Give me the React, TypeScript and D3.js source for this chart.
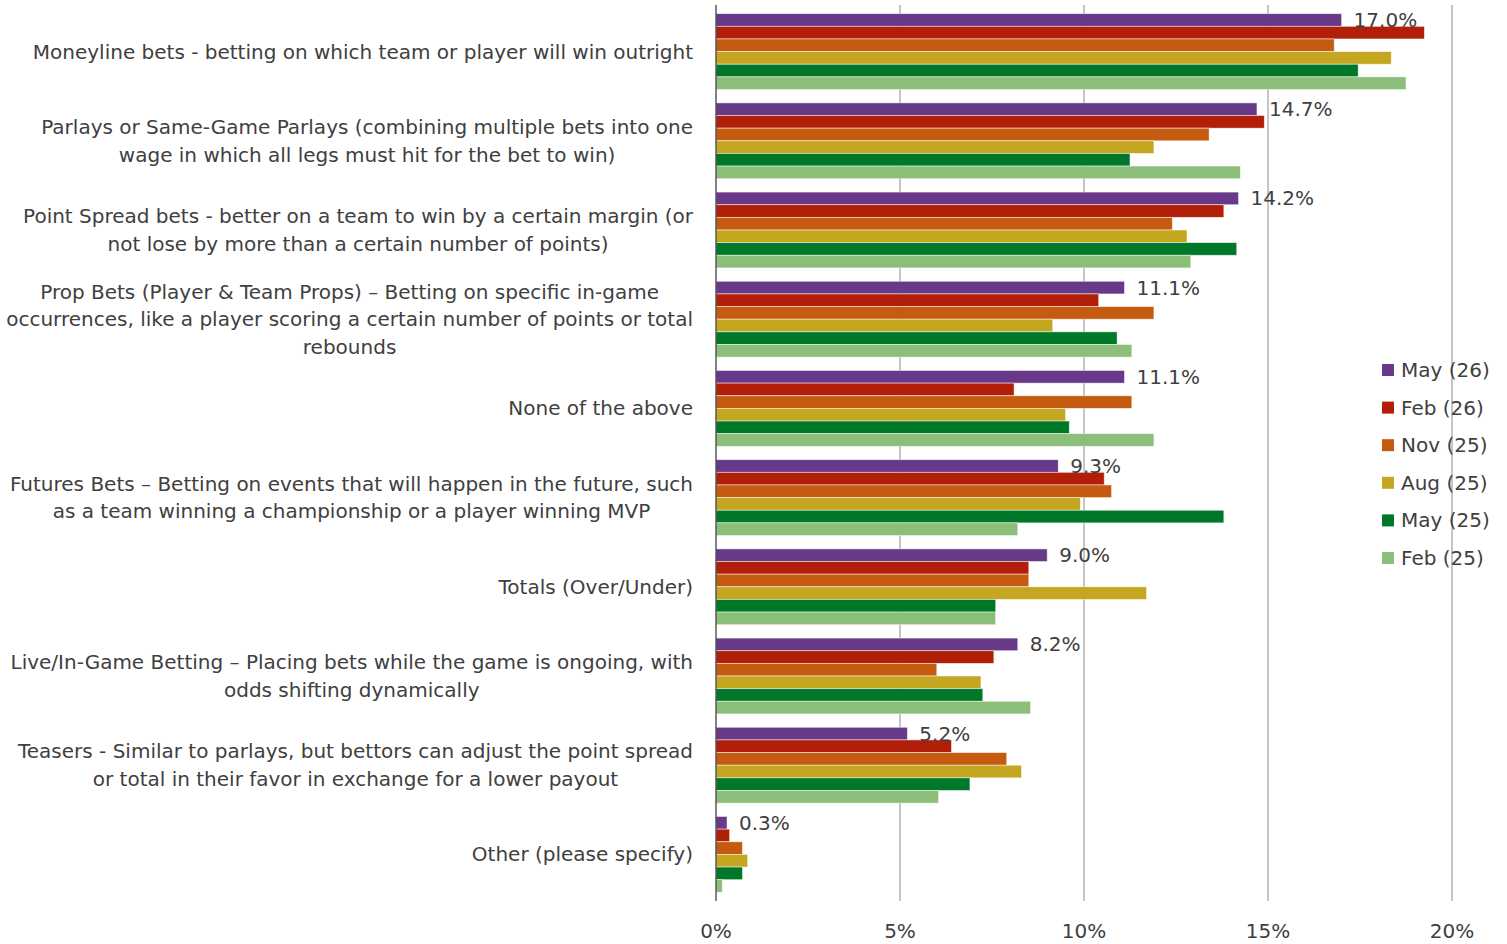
import { useEffect, useRef } from 'react';
import * as d3 from 'd3';

const categories = [
  'Moneyline bets - betting on which team or player will win outright',
  'Parlays or Same-Game Parlays (combining multiple bets into one\nwage in which all legs must hit for the bet to win)',
  'Point Spread bets - better on a team to win by a certain margin (or\nnot lose by more than a certain number of points)',
  'Prop Bets (Player & Team Props) – Betting on specific in-game\noccurrences, like a player scoring a certain number of points or total\nrebounds',
  'None of the above',
  'Futures Bets – Betting on events that will happen in the future, such\nas a team winning a championship or a player winning MVP',
  'Totals (Over/Under)',
  'Live/In-Game Betting – Placing bets while the game is ongoing, with\nodds shifting dynamically',
  'Teasers - Similar to parlays, but bettors can adjust the point spread\nor total in their favor in exchange for a lower payout',
  'Other (please specify)',
];

const seriesNames = ['May (26)', 'Feb (26)', 'Nov (25)', 'Aug (25)', 'May (25)', 'Feb (25)'];
const seriesColors = ['#683889', '#B21F08', '#C55B10', '#C5A621', '#00782A', '#8BBE79'];

// values in %, one array per wave, same order as categories
const may26 = [17.0, 14.7, 14.2, 11.1, 11.1, 9.3, 9.0, 8.2, 5.2, 0.3];
const feb26 = [19.25, 14.9, 13.8, 10.4, 8.1, 10.55, 8.5, 7.55, 6.4, 0.37];
const nov25 = [16.8, 13.4, 12.4, 11.9, 11.3, 10.75, 8.5, 6.0, 7.9, 0.72];
const aug25 = [18.35, 11.9, 12.8, 9.15, 9.5, 9.9, 11.7, 7.2, 8.3, 0.86];
const may25 = [17.45, 11.25, 14.15, 10.9, 9.6, 13.8, 7.6, 7.25, 6.9, 0.72];
const feb25 = [18.75, 14.25, 12.9, 11.3, 11.9, 8.2, 7.6, 8.55, 6.05, 0.17];

const seriesValues = [may26, feb26, nov25, aug25, may25, feb25];
const xTicks = [0, 5, 10, 15, 20];

const FONT = 'Tahoma, Verdana, "DejaVu Sans", sans-serif';
const TEXT = '#404040';

export default function App() {
  const svgRef = useRef<SVGSVGElement>(null);

  useEffect(() => {
    if (!svgRef.current) return;
    document.body.style.margin = '0';
    const svg = d3.select(svgRef.current);
    svg.selectAll('*').remove();

    const x = d3.scaleLinear().domain([0, 20]).range([716, 1452]);
    const y = d3.scaleBand<string>()
      .domain(categories)
      .range([7, 899])
      .paddingInner(0.15)
      .paddingOuter(0.075);
    const inner = d3.scaleBand<number>()
      .domain(d3.range(seriesNames.length))
      .range([0, y.bandwidth()]);

    // gridlines
    svg.append('g')
      .selectAll('line')
      .data(xTicks.slice(1))
      .join('line')
      .attr('x1', d => x(d))
      .attr('x2', d => x(d))
      .attr('y1', 5)
      .attr('y2', 901)
      .attr('stroke', '#A6A6A6')
      .attr('stroke-width', 1.3);

    // bars
    const groups = svg.append('g')
      .selectAll('g')
      .data(categories)
      .join('g')
      .attr('transform', d => `translate(0,${y(d)})`);

    groups.selectAll('rect')
      .data((_, ci) => seriesValues.map((vals, si) => ({ si, v: vals[ci] })))
      .join('rect')
      .attr('x', x(0))
      .attr('y', d => inner(d.si)!)
      .attr('width', d => x(d.v) - x(0))
      .attr('height', inner.bandwidth())
      .attr('fill', d => seriesColors[d.si])
      .attr('stroke', 'rgba(255,255,255,0.6)')
      .attr('stroke-width', 0.8);

    // data labels for latest wave
    groups.append('text')
      .attr('x', (_, ci) => x(may26[ci]) + 12)
      .attr('y', inner(0)! + inner.bandwidth() / 2)
      .attr('dy', '0.35em')
      .attr('font-family', FONT)
      .attr('font-size', 20)
      .attr('fill', TEXT)
      .text((_, ci) => may26[ci].toFixed(1) + '%');

    // y axis line
    svg.append('line')
      .attr('x1', x(0))
      .attr('x2', x(0))
      .attr('y1', 5)
      .attr('y2', 901)
      .attr('stroke', '#404040')
      .attr('stroke-width', 1.3);

    // x tick labels
    svg.append('g')
      .selectAll('text')
      .data(xTicks)
      .join('text')
      .attr('x', d => x(d))
      .attr('y', 931)
      .attr('dy', '0.35em')
      .attr('text-anchor', 'middle')
      .attr('font-family', FONT)
      .attr('font-size', 20)
      .attr('fill', TEXT)
      .text(d => d + '%');

    // category labels: block right aligned, lines centred within block
    const lineH = 27.5;
    const labelRight = 693;
    categories.forEach(cat => {
      const lines = cat.split('\n');
      const cy = y(cat)! + y.bandwidth() / 2;
      const g = svg.append('g');
      const texts = lines.map((ln, i) =>
        g.append('text')
          .attr('y', cy + (i - (lines.length - 1) / 2) * lineH)
          .attr('dy', '0.35em')
          .attr('text-anchor', 'middle')
          .attr('font-family', FONT)
          .attr('font-size', 20)
          .attr('fill', TEXT)
          .text(ln)
      );
      const maxW = d3.max(texts, t => (t.node() as SVGTextElement).getComputedTextLength()) || 0;
      texts.forEach(t => t.attr('x', labelRight - maxW / 2));
    });

    // legend
    const legend = svg.append('g')
      .selectAll('g')
      .data(seriesNames)
      .join('g')
      .attr('transform', (_, i) => `translate(1382,${370 + i * 37.6})`);
    legend.append('rect')
      .attr('x', 0)
      .attr('y', -6)
      .attr('width', 12)
      .attr('height', 12)
      .attr('fill', (_, i) => seriesColors[i]);
    legend.append('text')
      .attr('x', 19)
      .attr('dy', '0.35em')
      .attr('font-family', FONT)
      .attr('font-size', 20)
      .attr('fill', TEXT)
      .text(d => d);
  }, []);

  return <svg ref={svgRef} width={1507} height={944} style={{ display: 'block', background: '#fff' }} />;
}
